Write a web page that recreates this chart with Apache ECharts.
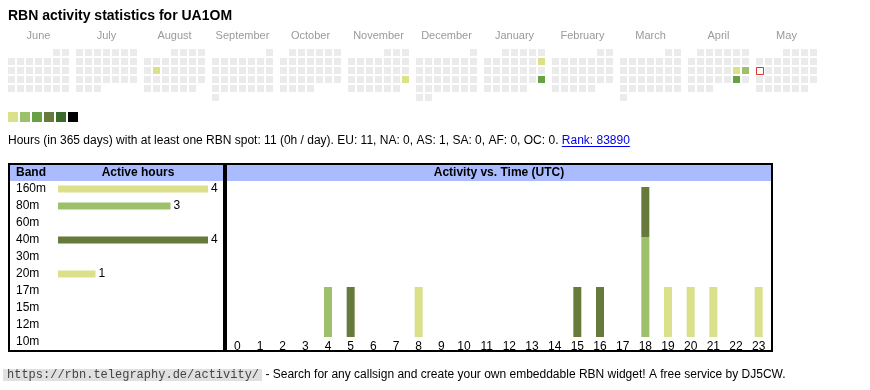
<!DOCTYPE html>
<html><head><meta charset="utf-8">
<script src="https://cdn.jsdelivr.net/npm/echarts@6/dist/echarts.min.js"></script>
<style>html,body{margin:0;padding:0;background:#fff}#c{width:870px;height:390px}</style>
</head><body><div id="c"></div>
<script>
// ---------- data ----------
const titleText = 'RBN activity statistics for UA1OM';
const months = ['2024-06','2024-07','2024-08','2024-09','2024-10','2024-11','2024-12','2025-01','2025-02','2025-03','2025-04','2025-05'];
const monthNames = ['June','July','August','September','October','November','December','January','February','March','April','May'];
const dayDates = ['2024-08-13','2024-11-24','2025-01-12','2025-01-26','2025-04-19','2025-04-20','2025-04-26'];
const dayHours = [1,1,1,3,1,2,3];
const todayDate = '2025-05-12';
const legendLevels = [1,2,3,4,5,6];
const bands = ['160m','80m','60m','40m','30m','20m','17m','15m','12m','10m'];
const bandHours = [4,3,0,4,0,1,0,0,0,0];
const hourLabels = ['0','1','2','3','4','5','6','7','8','9','10','11','12','13','14','15','16','17','18','19','20','21','22','23'];
const hours160 = [0,0,0,0,0,0,0,0,0,0,0,0,0,0,0,0,0,0,0,1,1,1,0,1];
const hours80  = [0,0,0,0,1,0,0,0,0,0,0,0,0,0,0,0,0,0,2,0,0,0,0,0];
const hours40  = [0,0,0,0,0,1,0,0,0,0,0,0,0,0,0,1,1,0,1,0,0,0,0,0];
const hours20  = [0,0,0,0,0,0,0,0,1,0,0,0,0,0,0,0,0,0,0,0,0,0,0,0];
const statsText = 'Hours (in 365 days) with at least one RBN spot: 11 (0h / day). EU: 11, NA: 0, AS: 1, SA: 0, AF: 0, OC: 0. ';
const rankText = 'Rank: 83890';
const footerUrl = 'https://rbn.telegraphy.de/activity/';
const footerText = ' - Search for any callsign and create your own embeddable RBN widget! A free service by DJ5CW.';
const bandHeader = 'Band';
const hoursHeader = 'Active hours';
const timeHeader = 'Activity vs. Time (UTC)';

// ---------- styles ----------
const FONT = 'Arial, "Liberation Sans", sans-serif';
const levelColors = ['#dae18a','#9dc16b','#68a046','#667b3b','#3c6a2a','#000000'];
const bandColor = {'160m':'#dae18a','80m':'#9dc16b','40m':'#667b3b','20m':'#dae18a'};
const headerBg = '#aabbff';

function measure(text, font){
  const c = document.createElement('canvas').getContext('2d');
  c.font = font; return c.measureText(text).width;
}

const chart = echarts.init(document.getElementById('c'), null, {renderer:'canvas'});

const calendars = months.map((m,i)=>({
  orient:'vertical', left: 7 + 68*i, top: 48, cellSize:[9,9], range:m,
  splitLine:{show:false},
  itemStyle:{color:'#ebebeb', borderColor:'#fff', borderWidth:2},
  dayLabel:{show:false, firstDay:1}, monthLabel:{show:false}, yearLabel:{show:false}
}));

const heatSeries = months.map((m,i)=>({
  type:'heatmap', coordinateSystem:'calendar', calendarIndex:i,
  data: dayDates.map((d,k)=>[d, dayHours[k]]).filter(p=>p[0].slice(0,7)===m),
  itemStyle:{borderWidth:0}, silent:true
}));

const statsFont = '12px ' + FONT;
const statsW = measure(statsText, statsFont);
const rankW = measure(rankText, statsFont);
const urlFont = '12px "Liberation Mono", "Courier New", monospace';
const urlW = measure(footerUrl, urlFont);

function txt(x,y,text,opt){
  return Object.assign({type:'text', x, y, silent:true, style:Object.assign({
    text, font: '12px '+FONT, fill:'#000', align:'left', verticalAlign:'middle',
    textAlign:'left', textVerticalAlign:'middle'}, opt||{})});
}

const graphics = [
  txt(8,16,titleText,{font:'bold 14px '+FONT}),
  ...monthNames.map((n,i)=>txt(7+68*i+31.5, 35.5, n, {font:'11px '+FONT, fill:'#9a9a9a', align:'center', textAlign:'center'})),
  txt(8,141,statsText,{font:statsFont}),
  txt(8+statsW,141,rankText,{font:statsFont, fill:'#0000ee'}),
  {type:'rect', silent:true, shape:{x:8+statsW, y:146, width:rankW, height:1}, style:{fill:'#0000ee'}},
  // table boxes
  {type:'rect', silent:true, shape:{x:10,y:165,width:213,height:16}, style:{fill:headerBg}},
  {type:'rect', silent:true, shape:{x:227,y:165,width:544,height:16}, style:{fill:headerBg}},
  {type:'rect', silent:true, shape:{x:9,y:164,width:215,height:187}, style:{fill:'none', stroke:'#000', lineWidth:2}},
  {type:'rect', silent:true, shape:{x:226,y:164,width:546,height:187}, style:{fill:'none', stroke:'#000', lineWidth:2}},
  txt(16,173,bandHeader,{font:'bold 12px '+FONT}),
  txt(138,173,hoursHeader,{font:'bold 12px '+FONT, align:'center', textAlign:'center'}),
  txt(499,173,timeHeader,{font:'bold 12px '+FONT, align:'center', textAlign:'center'}),
  // footer
  {type:'rect', silent:true, shape:{x:3,y:369,width:urlW+7,height:12}, style:{fill:'#e0e0e0'}},
  txt(7,375,footerUrl,{font:urlFont, fill:'#444'}),
  txt(7+urlW+3,375,footerText,{font:'12px '+FONT})
];

const stackDefs = [['160m',hours160],['80m',hours80],['40m',hours40],['20m',hours20]];

chart.setOption({
  animation:false,
  calendar: calendars,
  visualMap:{
    type:'piecewise', seriesIndex: months.map((m,i)=>i), orient:'horizontal',
    left:8, top:112, padding:0, itemWidth:10, itemHeight:10, itemGap:2, itemSymbol:'rect',
    showLabel:false, selectedMode:false, hoverLink:false,
    pieces: legendLevels.map((v,i)=> i===legendLevels.length-1 ? {min:v, color:levelColors[i]} : {value:v, color:levelColors[i]})
  },
  grid:[
    {left:58, top:180.5, width:150, height:170},
    {left:226, top:187, width:544, height:150}
  ],
  xAxis:[
    {gridIndex:0, type:'value', min:0, max:4, show:false},
    {gridIndex:1, type:'category', data:hourLabels, axisLine:{show:false}, axisTick:{show:false},
     axisLabel:{margin:4, fontSize:12, color:'#000', fontFamily:FONT, interval:0}}
  ],
  yAxis:[
    {gridIndex:0, type:'category', data:bands, inverse:true, axisLine:{show:false}, axisTick:{show:false},
     axisLabel:{align:'left', margin:42, fontSize:12, color:'#000', fontFamily:FONT}},
    {gridIndex:1, type:'value', min:0, max:3, show:false, splitLine:{show:false}}
  ],
  graphic: graphics,
  series:[
    ...heatSeries,
    {type:'scatter', coordinateSystem:'calendar', calendarIndex:11, data:[[todayDate,0]], symbol:'rect', symbolSize:7,
     symbolOffset:[0.5,0.5],
     itemStyle:{color:'#fff', borderColor:'#e00000', borderWidth:1}, silent:true},
    {type:'bar', xAxisIndex:0, yAxisIndex:0, barWidth:7, silent:true,
     data: bandHours.map((v,i)=>({value:v, itemStyle:{color:bandColor[bands[i]]||'#999'}})),
     label:{show:true, position:'right', distance:3, fontSize:12, color:'#000', fontFamily:FONT,
            formatter:p=>p.value>0?String(p.value):''}},
    ...stackDefs.map(([b,arr])=>({type:'bar', name:b, xAxisIndex:1, yAxisIndex:1, stack:'t', barWidth:8, silent:true,
       data:arr, itemStyle:{color:bandColor[b]}}))
  ]
});
</script></body></html>
